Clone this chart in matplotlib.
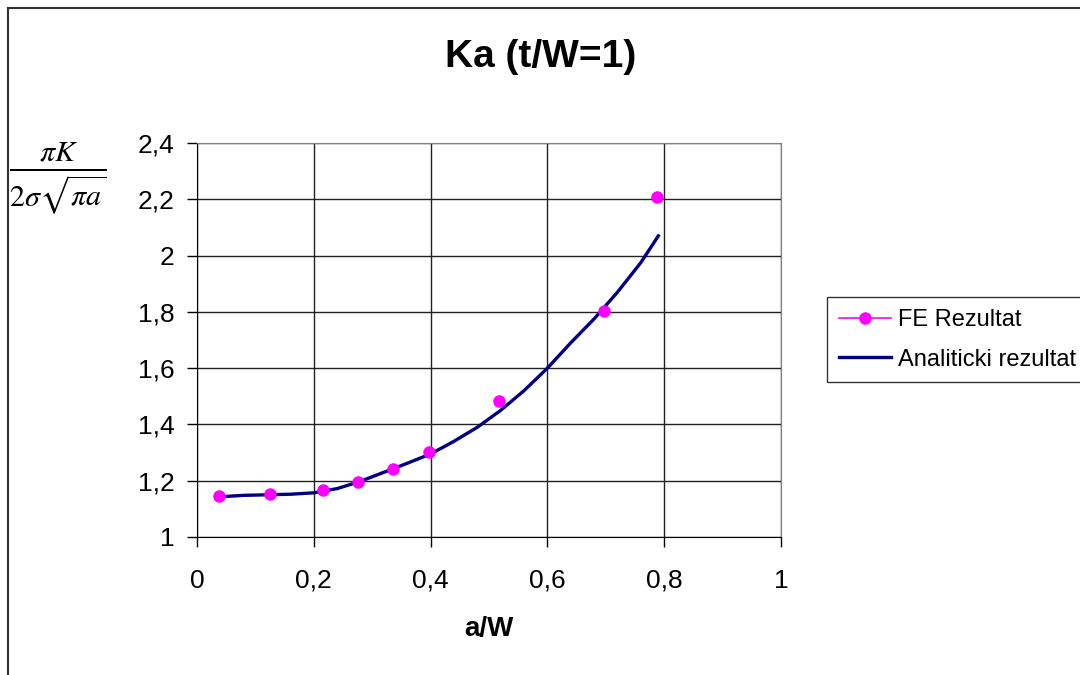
import matplotlib
matplotlib.use("Agg")
import matplotlib.pyplot as plt
from matplotlib.lines import Line2D

plt.rcParams['font.family'] = ['Liberation Sans', 'DejaVu Sans']
plt.rcParams['mathtext.fontset'] = 'stix'

# FE results
fe_x = [0.037, 0.125, 0.216, 0.276, 0.336, 0.398, 0.517, 0.697, 0.788]
fe_y = [1.145, 1.152, 1.166, 1.197, 1.243, 1.301, 1.484, 1.803, 2.208]

# analytic curve
an_x = [0.04, 0.08, 0.12, 0.16, 0.20, 0.24, 0.28, 0.32, 0.36, 0.40,
        0.44, 0.48, 0.52, 0.56, 0.60, 0.64, 0.68, 0.72, 0.76, 0.79]
an_y = [1.143, 1.148, 1.150, 1.152, 1.157, 1.172, 1.198, 1.230, 1.262, 1.295,
        1.340, 1.390, 1.450, 1.520, 1.600, 1.690, 1.775, 1.870, 1.975, 2.070]

x_ticks = [0, 0.2, 0.4, 0.6, 0.8, 1]
x_labels = ["0", "0,2", "0,4", "0,6", "0,8", "1"]
y_ticks = [1, 1.2, 1.4, 1.6, 1.8, 2, 2.2, 2.4]
y_labels = ["1", "1,2", "1,4", "1,6", "1,8", "2", "2,2", "2,4"]

W, H = 1080, 675
fig = plt.figure(figsize=(10.8, 6.75), dpi=100)
ax = fig.add_axes([197 / W, 1 - 537 / H, 584 / W, 394 / H])

ax.plot(an_x, an_y, color="#000080", lw=2.4, zorder=3)
ax.plot(fe_x, fe_y, ls="none", marker="o", ms=8, color="#FF00FF",
        markeredgecolor="#FF00FF", zorder=4)

ax.set_xlim(0, 1)
ax.set_ylim(1, 2.4)
ax.set_xticks(x_ticks)
ax.set_xticklabels(x_labels)
ax.set_yticks(y_ticks)
ax.set_yticklabels(y_labels)
ax.tick_params(direction="out", length=7, width=1, labelsize=19, pad=9)
ax.tick_params(axis="x", pad=16)
ax.grid(True, color="#222222", lw=1)
ax.set_axisbelow(True)
for side in ["top", "right"]:
    ax.spines[side].set_color("#808080")
for side in ["left", "bottom"]:
    ax.spines[side].set_color("black")

fig.text(541 / W, 1 - 57 / H, "Ka (t/W=1)", ha="center", va="center",
         fontsize=28, fontweight="bold")
fig.text(489 / W, 1 - 629 / H, "a/W", ha="center", va="center",
         fontsize=20, fontweight="bold")
fig.text(58 / W, 1 - 178 / H, r"$\frac{\pi K}{2\sigma\sqrt{\pi a}}$",
         ha="center", va="center", fontsize=31)

# outer border (left and top only visible)
fig.add_artist(Line2D([8 / W, 8 / W], [0, 1 - 8 / H], color="#333333", lw=1.5,
                      transform=fig.transFigure))
fig.add_artist(Line2D([8 / W, 1], [1 - 8 / H, 1 - 8 / H], color="#333333", lw=1.5,
                      transform=fig.transFigure))

handles = [
    Line2D([], [], color="#FF00FF", lw=1.2, marker="o", ms=8),
    Line2D([], [], color="#000080", lw=2.4),
]
leg = fig.legend(handles, ["FE Rezultat", "Analiticki rezultat"],
                 loc="upper left", bbox_to_anchor=(827 / W, 1 - 297 / H),
                 fontsize=17, frameon=True, fancybox=False, handlelength=2.2,
                 handletextpad=0.3, borderpad=0.5, labelspacing=0.75,
                 borderaxespad=0)
leg.get_frame().set_edgecolor("black")
leg.get_frame().set_linewidth(1)

fig.savefig("out.png", dpi=100)
